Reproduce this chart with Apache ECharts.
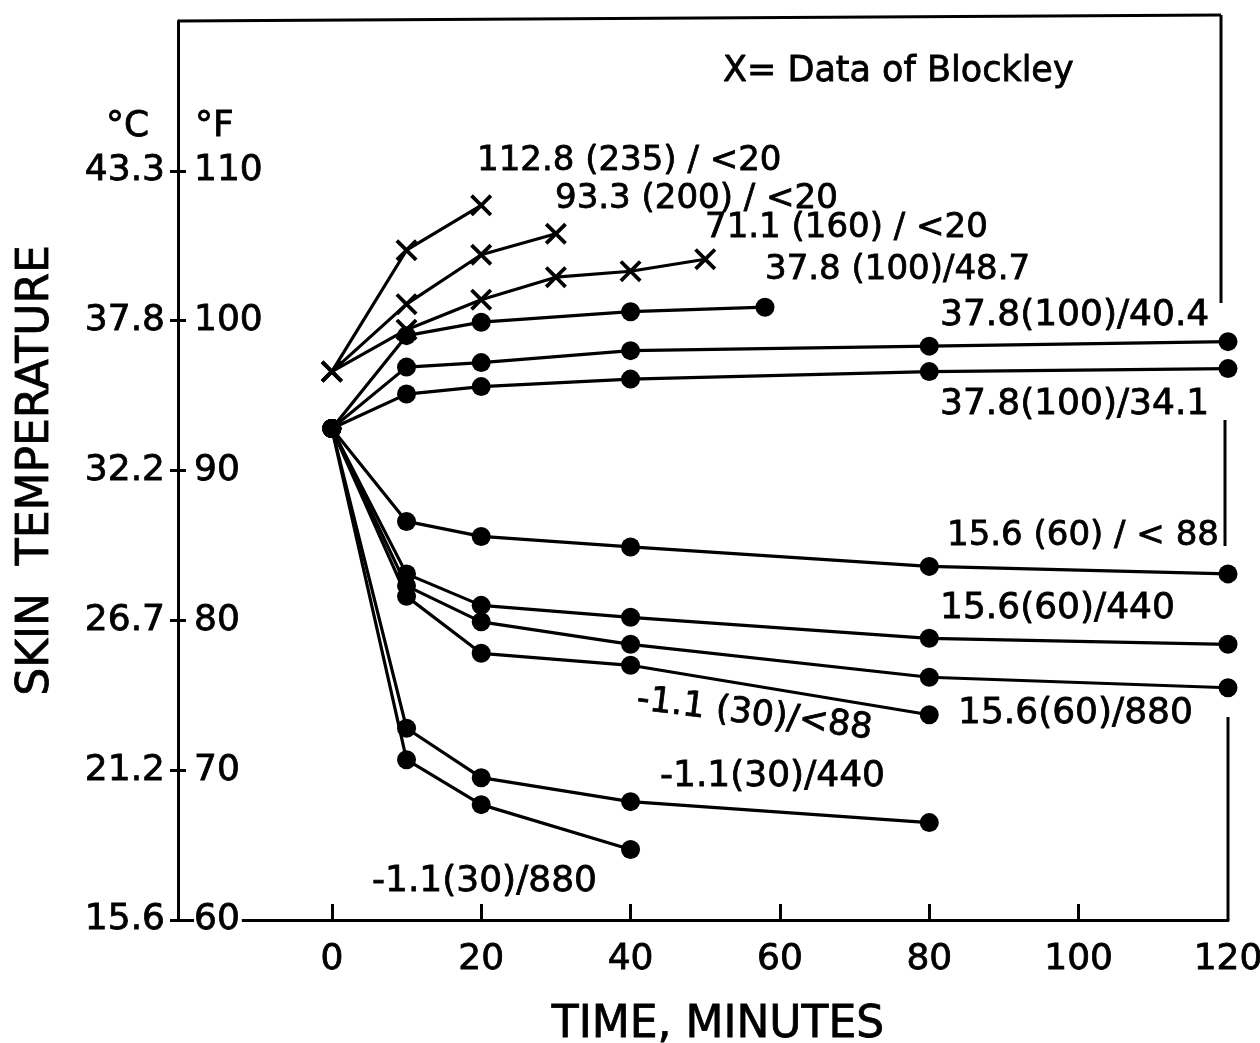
<!DOCTYPE html>
<html>
<head>
<meta charset="utf-8">
<title>Skin temperature</title>
<script src="https://cdn.jsdelivr.net/npm/echarts@6/dist/echarts.min.js"></script>
<style>
  html, body { margin: 0; padding: 0; background: #fff; }
  #chart { width: 1260px; height: 1043px; }
</style>
</head>
<body>
<div id="chart"></div>
<script>
// tick values
const fahrenheitTicks = [60, 70, 80, 90, 100, 110];
const celsiusLabels = ['15.6', '21.2', '26.7', '32.2', '37.8', '43.3'];
const timeTicks = [0, 20, 40, 60, 80, 100, 120];

// Blockley data (x markers), deg F
const b235Time = [0, 10, 20];
const b235Temp = [96.6, 104.7, 107.7];
const b200Time = [0, 10, 20, 30];
const b200Temp = [96.6, 101.1, 104.4, 105.8];
const b160Time = [0, 10, 20, 30, 40, 50];
const b160Temp = [96.6, 99.4, 101.4, 102.9, 103.3, 104.1];

// dot data, deg F
const w487Time = [0, 10, 20, 40, 58];
const w487Temp = [92.8, 99.0, 99.9, 100.6, 100.9];
const w404Time = [0, 10, 20, 40, 80, 120];
const w404Temp = [92.8, 96.9, 97.2, 98.0, 98.3, 98.6];
const w341Time = [0, 10, 20, 40, 80, 120];
const w341Temp = [92.8, 95.1, 95.6, 96.1, 96.6, 96.8];
const c88Time = [0, 10, 20, 40, 80, 120];
const c88Temp = [92.8, 86.6, 85.6, 84.9, 83.6, 83.1];
const c440Time = [0, 10, 20, 40, 80, 120];
const c440Temp = [92.8, 83.1, 81.0, 80.2, 78.8, 78.4];
const c880Time = [0, 10, 20, 40, 80, 120];
const c880Temp = [92.8, 82.3, 79.9, 78.4, 76.2, 75.5];
const f88Time = [0, 10, 20, 40, 80];
const f88Temp = [92.8, 81.6, 77.8, 77.0, 73.7];
const f440Time = [0, 10, 20, 40, 80];
const f440Temp = [92.8, 72.8, 69.5, 67.9, 66.5];
const f880Time = [0, 10, 20, 40];
const f880Temp = [92.8, 70.7, 67.7, 64.7];

const FONT = '"DejaVu Sans", sans-serif';
const CROSS = 'path://M0,1.2L1.2,0L5,3.8L8.8,0L10,1.2L6.2,5L10,8.8L8.8,10L5,6.2L1.2,10L0,8.8L3.8,5Z';

function zip(t, v) {
    return t.map((x, i) => [x, v[i]]);
}

function makeSeries(name, t, v, cross) {
    return {
        name: name,
        type: 'line',
        data: zip(t, v),
        symbol: cross ? CROSS : 'circle',
        symbolSize: cross ? 22 : 19,
        lineStyle: { color: '#000', width: 3.2 },
        itemStyle: { color: '#000' },
        emphasis: { disabled: true },
        animation: false
    };
}

function label(text, x, y, size, rot) {
    return {
        type: 'text',
        x: x,
        y: y,
        rotation: rot || 0,
        style: {
            text: text,
            fill: '#000',
            stroke: '#000',
            lineWidth: 0.8,
            font: (size || 34) + 'px ' + FONT,
            textAlign: 'left',
            textVerticalAlign: 'middle'
        }
    };
}

function frameLine(x1, y1, x2, y2) {
    return {
        type: 'line',
        shape: { x1: x1, y1: y1, x2: x2, y2: y2 },
        style: { stroke: '#000', lineWidth: 3 }
    };
}

const chart = echarts.init(document.getElementById('chart'));

const option = {
    animation: false,
    backgroundColor: '#fff',
    grid: { left: 178, right: 32, top: 21, bottom: 123, containLabel: false, outerBoundsMode: 'none' },
    xAxis: {
        type: 'value',
        min: -20.6,
        max: 120,
        name: 'TIME, MINUTES',
        nameLocation: 'middle',
        nameGap: 84,
        nameTextStyle: {
            fontFamily: FONT, fontSize: 44, color: '#000', padding: [0, 0, 0, 30],
            textBorderColor: '#000', textBorderWidth: 0.8
        },
        axisLine: { show: true, onZero: false, lineStyle: { color: '#000', width: 3 } },
        axisTick: {
            show: true, inside: true, length: 16,
            customValues: timeTicks.slice(0, 6),
            lineStyle: { color: '#000', width: 3 }
        },
        axisLabel: {
            customValues: timeTicks,
            margin: 22,
            fontFamily: FONT, fontSize: 36, color: '#000',
            textBorderColor: '#000', textBorderWidth: 0.8
        },
        splitLine: { show: false }
    },
    yAxis: [{
        type: 'value',
        min: 60,
        max: 120,
        position: 'left',
        name: 'SKIN  TEMPERATURE',
        nameLocation: 'middle',
        nameRotate: 90,
        nameGap: 119,
        nameTextStyle: {
            fontFamily: FONT, fontSize: 44, color: '#000',
            textBorderColor: '#000', textBorderWidth: 0.8
        },
        axisLine: { show: true, onZero: false, lineStyle: { color: '#000', width: 3 } },
        axisTick: {
            show: true, length: 8,
            customValues: fahrenheitTicks,
            lineStyle: { color: '#000', width: 3 }
        },
        axisLabel: {
            customValues: fahrenheitTicks,
            margin: 13,
            fontFamily: FONT, fontSize: 36, color: '#000',
            textBorderColor: '#000', textBorderWidth: 0.8,
            formatter: function (v) {
                return celsiusLabels[fahrenheitTicks.indexOf(v)] || '';
            }
        },
        splitLine: { show: false }
    }, {
        type: 'value',
        min: 60,
        max: 120,
        position: 'left',
        axisLine: { show: false, onZero: false },
        axisTick: {
            show: true, inside: true, length: 8,
            customValues: fahrenheitTicks,
            lineStyle: { color: '#000', width: 3 }
        },
        axisLabel: {
            inside: true,
            customValues: fahrenheitTicks,
            margin: 16,
            fontFamily: FONT, fontSize: 36, color: '#000',
            textBorderColor: '#000', textBorderWidth: 0.8,
            backgroundColor: '#fff',
            padding: [0, 2, 0, 0]
        },
        splitLine: { show: false }
    }],
    series: [
        makeSeries('112.8 (235) / <20', b235Time, b235Temp, true),
        makeSeries('93.3 (200) / <20', b200Time, b200Temp, true),
        makeSeries('71.1 (160) / <20', b160Time, b160Temp, true),
        makeSeries('37.8 (100)/48.7', w487Time, w487Temp),
        makeSeries('37.8(100)/40.4', w404Time, w404Temp),
        makeSeries('37.8(100)/34.1', w341Time, w341Temp),
        makeSeries('15.6 (60) / < 88', c88Time, c88Temp),
        makeSeries('15.6(60)/440', c440Time, c440Temp),
        makeSeries('15.6(60)/880', c880Time, c880Temp),
        makeSeries('-1.1 (30)/<88', f88Time, f88Temp),
        makeSeries('-1.1(30)/440', f440Time, f440Temp),
        makeSeries('-1.1(30)/880', f880Time, f880Temp)
    ],
    graphic: [
        // frame (top + broken right side)
        frameLine(178, 21, 1221, 15),
        frameLine(1221, 15, 1221, 303),
        frameLine(1225, 420, 1225, 546),
        frameLine(1228, 717, 1228, 920),
        // unit headers
        label('°C', 106, 127, 36),
        label('°F', 195, 127, 36),
        // curve labels
        label('X= Data of Blockley', 723, 72, 35),
        label('112.8 (235) / <20', 477, 161, 34),
        label('93.3 (200) / <20', 555, 199, 34),
        label('71.1 (160) / <20', 705, 228, 34),
        label('37.8 (100)/48.7', 765, 270, 34),
        label('37.8(100)/40.4', 940, 316, 36),
        label('37.8(100)/34.1', 940, 405, 36),
        label('15.6 (60) / < 88', 947, 536, 34),
        label('15.6(60)/440', 940, 609, 36),
        label('15.6(60)/880', 958, 714, 36),
        label('-1.1 (30)/<88', 637, 700, 35, -0.125),
        label('-1.1(30)/440', 660, 777, 36),
        label('-1.1(30)/880', 372, 882, 36)
    ]
};

chart.setOption(option);
</script>
</body>
</html>
